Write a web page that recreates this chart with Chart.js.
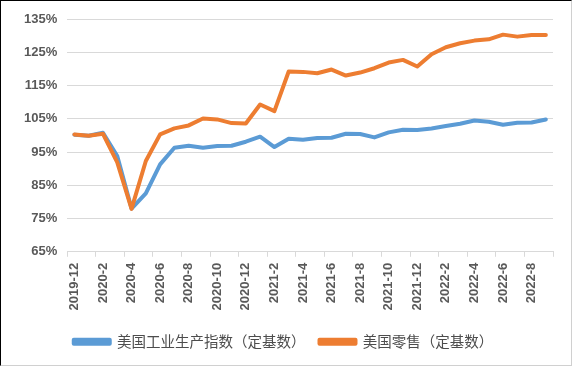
<!DOCTYPE html>
<html>
<head>
<meta charset="utf-8">
<script src="https://cdn.jsdelivr.net/npm/chart.js@4/dist/chart.umd.min.js"></script>
<style>
  html, body { margin: 0; padding: 0; background: #fff; }
  #wrap { position: relative; width: 573px; height: 367px; }
  #frame { position: absolute; left: 0; top: 0; width: 572px; height: 366px; box-sizing: border-box;
           border-top: 1px solid #000; border-left: 1px solid #000;
           border-right: 1px solid #d0d0d0; border-bottom: 1px solid #d0d0d0; }
  canvas { position: absolute; left: 0; top: 0; }
</style>
</head>
<body>
<div id="wrap">
  <div id="frame"></div>
  <canvas id="c" width="573" height="367"></canvas>
</div>
<script>
const categories = [
  '2019-12','2020-1','2020-2','2020-3','2020-4','2020-5','2020-6','2020-7','2020-8','2020-9','2020-10','2020-11',
  '2020-12','2021-1','2021-2','2021-3','2021-4','2021-5','2021-6','2021-7','2021-8','2021-9','2021-10','2021-11',
  '2021-12','2022-1','2022-2','2022-3','2022-4','2022-5','2022-6','2022-7','2022-8','2022-9'
];
const industrialIndex = [
  100.2, 99.9, 100.8, 93.8, 78.0, 82.6, 91.3, 96.3, 96.9, 96.3, 96.8, 96.9,
  98.1, 99.6, 96.5, 99.0, 98.7, 99.2, 99.3, 100.5, 100.4, 99.4, 100.9, 101.7,
  101.6, 102.1, 102.8, 103.5, 104.5, 104.1, 103.2, 103.8, 103.9, 104.8
];
const retailIndex = [
  100.3, 99.9, 100.5, 91.9, 77.9, 92.3, 100.3, 102.1, 103.0, 105.1, 104.8, 103.7,
  103.6, 109.3, 107.3, 119.2, 119.1, 118.7, 119.8, 118.0, 118.9, 120.2, 121.9, 122.7,
  120.7, 124.4, 126.5, 127.7, 128.5, 128.9, 130.3, 129.7, 130.2, 130.2
];
const seriesNames = ['美国工业生产指数（定基数）', '美国零售（定基数）'];
const yTicks = { min: 65, max: 135, step: 10 };

const grey = '#595959';
new Chart(document.getElementById('c'), {
  type: 'line',
  data: {
    labels: categories,
    datasets: [
      { label: seriesNames[0], data: industrialIndex, borderColor: '#5B9BD5', backgroundColor: '#5B9BD5',
        borderWidth: 4, pointRadius: 0, tension: 0, borderJoinStyle: 'round', borderCapStyle: 'round', order: 1 },
      { label: seriesNames[1], data: retailIndex, borderColor: '#ED7D31', backgroundColor: '#ED7D31',
        borderWidth: 4, pointRadius: 0, tension: 0, borderJoinStyle: 'round', borderCapStyle: 'round', order: 0 }
    ]
  },
  options: {
    responsive: false,
    animation: false,
    layout: { padding: { left: 14, right: 20, top: 19, bottom: 8 } },
    plugins: {
      tooltip: { enabled: false },
      legend: {
        position: 'bottom',
        labels: {
          sort: (a, b) => a.datasetIndex - b.datasetIndex,
          boxWidth: 36, boxHeight: 4, padding: 14, color: '#4d4d4d',
          font: { family: "'Noto Sans CJK SC', 'Noto Sans', sans-serif", size: 14.5 }
        }
      }
    },
    scales: {
      x: {
        offset: true,
        border: { display: true, color: '#d9d9d9', width: 1 },
        grid: {
          offset: true, drawOnChartArea: false, drawTicks: true, tickLength: 5,
          color: ctx => (ctx.index === undefined || ctx.index % 2 === 0) ? '#d9d9d9' : 'rgba(0,0,0,0)'
        },
        ticks: {
          autoSkip: false, maxRotation: 90, minRotation: 90, padding: 6, color: grey,
          font: { family: "'Liberation Sans', Arial, sans-serif", size: 13, weight: 'bold' },
          callback: function(v, i) { return i % 2 === 0 ? this.getLabelForValue(v) : ''; }
        },
        afterFit: scale => { scale.height += 4; }
      },
      y: {
        min: yTicks.min, max: yTicks.max,
        border: { display: false },
        grid: { color: '#d9d9d9', drawTicks: false },
        ticks: {
          stepSize: yTicks.step, padding: 10, color: grey,
          font: { family: "'Liberation Sans', Arial, sans-serif", size: 13, weight: 'bold' },
          callback: v => v + '%'
        }
      }
    }
  }
});
</script>
</body>
</html>
